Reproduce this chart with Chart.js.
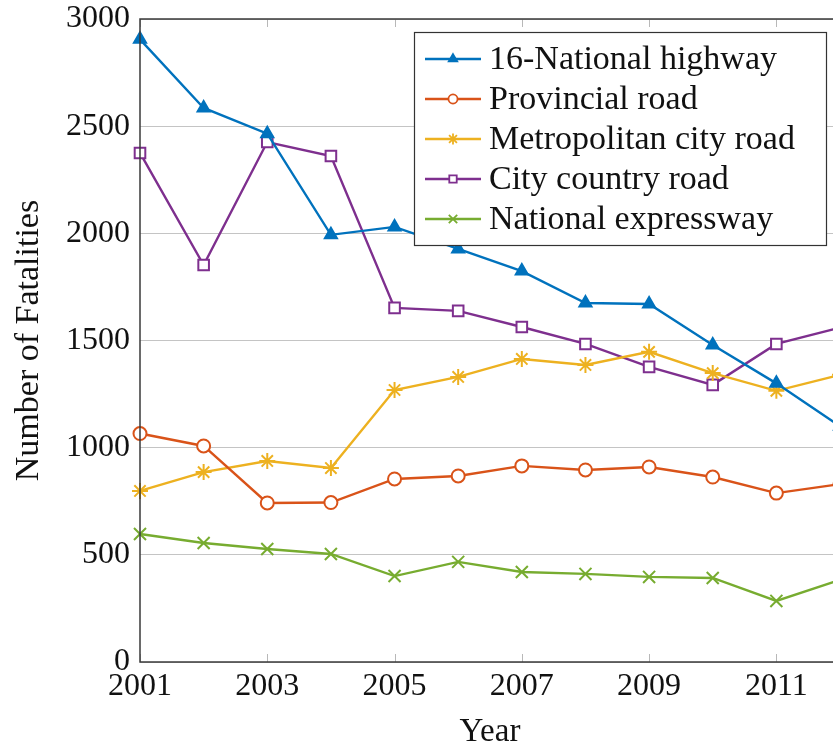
<!DOCTYPE html>
<html>
<head>
<meta charset="utf-8">
<script src="https://cdn.jsdelivr.net/npm/chart.js@4.4.0/dist/chart.umd.min.js"></script>
<style>
  html, body { margin: 0; padding: 0; background: #fff; overflow: hidden; }
  #wrap { width: 860px; height: 749px; position: relative; }
</style>
</head>
<body>
<div id="wrap"><canvas id="chart"></canvas></div>
<script>
// values
const years = [2001, 2002, 2003, 2004, 2005, 2006, 2007, 2008, 2009, 2010, 2011, 2012];
const xTicks = [2001, 2003, 2005, 2007, 2009, 2011];
const yTicks = [0, 500, 1000, 1500, 2000, 2500, 3000];

const nationalHighway = [2905, 2585, 2465, 1993, 2030, 1927, 1824, 1675, 1670, 1479, 1300, 1100];
const provincialRoad = [1066, 1008, 742, 744, 854, 868, 915, 896, 910, 863, 788, 830];
const metroCityRoad = [798, 886, 938, 905, 1269, 1330, 1414, 1386, 1447, 1348, 1265, 1340];
const cityCountryRoad = [2375, 1852, 2426, 2361, 1652, 1638, 1563, 1484, 1377, 1293, 1484, 1560];
const expressway = [597, 555, 527, 504, 401, 467, 420, 411, 397, 392, 285, 383];

const labels = ['16-National highway', 'Provincial road', 'Metropolitan city road', 'City country road', 'National expressway'];
const colors = ['#0072BD', '#D95319', '#EDB120', '#7E2F8E', '#77AC30'];

const serif = "'Liberation Serif', 'DejaVu Serif', serif";

function toPoints(vals) {
    return vals.map((v, i) => ({x: years[i], y: v}));
}

function makeSet(i, vals, style, radius, fill) {
    return {
        label: labels[i],
        data: toPoints(vals),
        borderColor: colors[i],
        backgroundColor: fill,
        borderWidth: 2.4,
        pointStyle: style,
        pointRadius: radius,
        pointBorderColor: colors[i],
        pointBackgroundColor: fill,
        pointBorderWidth: 2,
        tension: 0,
        clip: false
    };
}

// small inward tick marks at top and bottom, plus the axis frame
const frame = {
    id: 'frame',
    beforeDatasetsDraw(chart) {
        const ctx = chart.ctx;
        const a = chart.chartArea;
        const xs = chart.scales.x;
        ctx.save();
        ctx.strokeStyle = '#b8b8b8';
        ctx.lineWidth = 1;
        xTicks.forEach(t => {
            const px = Math.round(xs.getPixelForValue(t)) + 0.5;
            ctx.beginPath();
            ctx.moveTo(px, a.bottom);
            ctx.lineTo(px, a.bottom - 8);
            ctx.moveTo(px, a.top);
            ctx.lineTo(px, a.top + 8);
            ctx.stroke();
        });
        ctx.restore();
    },
    afterDatasetsDraw(chart) {
        const ctx = chart.ctx;
        const a = chart.chartArea;
        ctx.save();
        ctx.strokeStyle = '#3a3a3a';
        ctx.lineWidth = 1.5;
        ctx.strokeRect(a.left, a.top, a.right - a.left, a.bottom - a.top);
        ctx.restore();
    }
};

// boxed legend, top right inside the axes
const boxLegend = {
    id: 'boxLegend',
    afterDraw(chart) {
        const ctx = chart.ctx;
        const x0 = 414, y0 = 32, w = 412, h = 213;
        ctx.save();
        ctx.fillStyle = '#fff';
        ctx.fillRect(x0, y0, w, h);
        ctx.strokeStyle = '#333';
        ctx.lineWidth = 1.2;
        ctx.strokeRect(x0 + 0.5, y0 + 0.5, w, h);
        chart.data.datasets.forEach((ds, i) => {
            const y = 59 + 40 * i;
            ctx.strokeStyle = ds.borderColor;
            ctx.lineWidth = 2.4;
            ctx.beginPath();
            ctx.moveTo(425, y);
            ctx.lineTo(481, y);
            ctx.stroke();
            if (Chart.helpers && Chart.helpers.drawPoint) {
                ctx.fillStyle = ds.pointBackgroundColor;
                ctx.strokeStyle = ds.borderColor;
                ctx.lineWidth = 1.8;
                Chart.helpers.drawPoint(ctx, {
                    pointStyle: ds.pointStyle,
                    radius: ds.pointRadius * 0.7,
                    rotation: 0,
                    borderWidth: 1.8
                }, 453, y);
            }
            ctx.fillStyle = '#111';
            ctx.font = '34px ' + serif;
            ctx.textAlign = 'left';
            ctx.textBaseline = 'middle';
            ctx.fillText(ds.label, 489, y + 1);
        });
        ctx.restore();
    }
};

new Chart(document.getElementById('chart'), {
    type: 'line',
    data: {
        datasets: [
            makeSet(0, nationalHighway, 'triangle', 7, colors[0]),
            makeSet(1, provincialRoad, 'circle', 6.5, '#fff'),
            makeSet(2, metroCityRoad, 'star', 8, '#fff'),
            makeSet(3, cityCountryRoad, 'rect', 7.5, '#fff'),
            makeSet(4, expressway, 'crossRot', 8.5, '#fff')
        ]
    },
    options: {
        responsive: true,
        maintainAspectRatio: false,
        animation: false,
        layout: { padding: { top: 19, right: 20, left: 0, bottom: 0 } },
        plugins: {
            legend: { display: false },
            tooltip: { enabled: false }
        },
        scales: {
            x: {
                type: 'linear',
                min: 2001,
                max: 2012,
                afterBuildTicks: (s) => { s.ticks = xTicks.map(v => ({value: v})); },
                afterFit: (s) => { s.height = 87; s.paddingLeft = 0; s.paddingRight = 0; },
                grid: { display: false, drawTicks: false },
                border: { display: false },
                ticks: {
                    color: '#111',
                    font: { family: serif, size: 32 },
                    padding: 5,
                    maxRotation: 0,
                    autoSkip: false,
                    callback: (v) => String(v)
                },
                title: {
                    display: true,
                    text: 'Year',
                    color: '#111',
                    font: { family: serif, size: 33, lineHeight: 1 },
                    padding: { top: 0, bottom: 0 }
                }
            },
            y: {
                min: 0,
                max: 3000,
                afterBuildTicks: (s) => { s.ticks = yTicks.map(v => ({value: v})); },
                afterFit: (s) => { s.width = 140; s.paddingTop = 0; s.paddingBottom = 0; },
                grid: { color: '#c4c4c4', lineWidth: 1, drawTicks: false },
                border: { display: false },
                ticks: {
                    color: '#111',
                    font: { family: serif, size: 32 },
                    padding: 10,
                    callback: (v) => String(v)
                },
                title: {
                    display: true,
                    text: 'Number of Fatalities',
                    color: '#111',
                    font: { family: serif, size: 34, lineHeight: 1 },
                    padding: { top: 12, bottom: 0 }
                }
            }
        }
    },
    plugins: [frame, boxLegend]
});
</script>
</body>
</html>
